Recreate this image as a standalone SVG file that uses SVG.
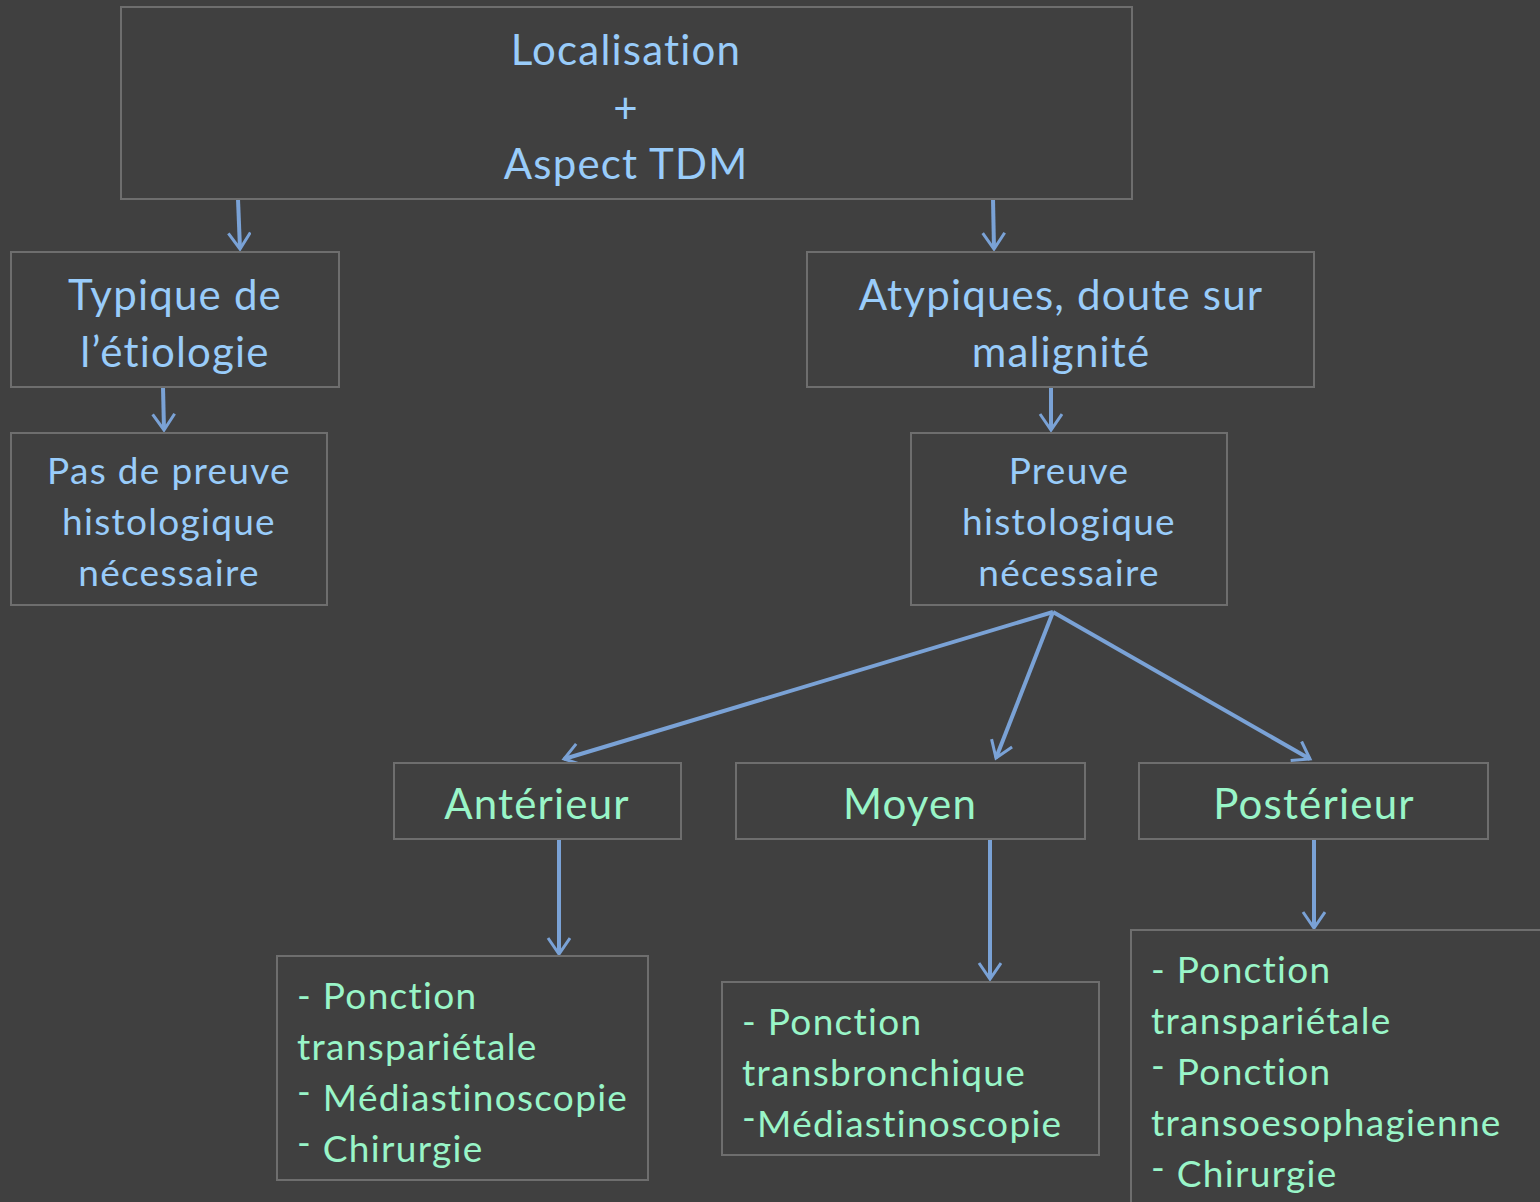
<svg xmlns="http://www.w3.org/2000/svg" width="1540" height="1202" viewBox="0 0 1540 1202">
<style>
.box{fill:#404040;stroke:#6e6e6e;stroke-width:2}
.t{font-family:Lato,"Open Sans","Liberation Sans",sans-serif;}
.blue{fill:#99ccfa}
.green{fill:#99f5c8}
.big{font-size:42px;letter-spacing:1.2px}
.mid{font-size:37px;letter-spacing:1.3px}
.c{text-anchor:middle}
.con{stroke:#7aa2d6;stroke-width:4;fill:none}
</style>
<defs>
<marker id="ah" markerUnits="userSpaceOnUse" markerWidth="34" markerHeight="34" refX="18" refY="12" orient="auto">
<path d="M2,1 L18,12 L2,23" fill="none" stroke="#7aa2d6" stroke-width="3"/>
</marker>
</defs>
<rect width="1540" height="1202" fill="#404040"/>
<g id="connectors">
<line class="con" x1="238" y1="199" x2="240" y2="249" marker-end="url(#ah)"/>
<line class="con" x1="993" y1="199" x2="994" y2="249" marker-end="url(#ah)"/>
<line class="con" x1="163" y1="387" x2="164" y2="430" marker-end="url(#ah)"/>
<line class="con" x1="1051" y1="387" x2="1051" y2="430" marker-end="url(#ah)"/>
<line class="con" x1="1053" y1="612" x2="564" y2="759" marker-end="url(#ah)"/>
<line class="con" x1="1053" y1="612" x2="996" y2="758" marker-end="url(#ah)"/>
<line class="con" x1="1053" y1="612" x2="1310" y2="759" marker-end="url(#ah)"/>
<line class="con" x1="559" y1="839" x2="559" y2="954" marker-end="url(#ah)"/>
<line class="con" x1="990" y1="839" x2="990" y2="979" marker-end="url(#ah)"/>
<line class="con" x1="1314" y1="839" x2="1314" y2="928" marker-end="url(#ah)"/>
</g>
<g id="n-top">
<rect class="box" x="121" y="7" width="1011" height="192"/>
<text class="t blue big c" x="626" y="65">Localisation</text>
<text class="t blue big c" x="626" y="123">+</text>
<text class="t blue big c" x="626" y="179">Aspect TDM</text>
</g>
<g id="n-typique">
<rect class="box" x="11" y="252" width="328" height="135"/>
<text class="t blue big c" x="175" y="310">Typique de</text>
<text class="t blue big c" x="175" y="367">l’étiologie</text>
</g>
<g id="n-pas">
<rect class="box" x="11" y="433" width="316" height="172"/>
<text class="t blue mid c" x="169" y="484">Pas de preuve</text>
<text class="t blue mid c" x="169" y="535">histologique</text>
<text class="t blue mid c" x="169" y="586">nécessaire</text>
</g>
<g id="n-atyp">
<rect class="box" x="807" y="252" width="507" height="135"/>
<text class="t blue big c" x="1061" y="310">Atypiques, doute sur</text>
<text class="t blue big c" x="1061" y="367">malignité</text>
</g>
<g id="n-preuve">
<rect class="box" x="911" y="433" width="316" height="172"/>
<text class="t blue mid c" x="1069" y="484">Preuve</text>
<text class="t blue mid c" x="1069" y="535">histologique</text>
<text class="t blue mid c" x="1069" y="586">nécessaire</text>
</g>
<g id="n-ant">
<rect class="box" x="394" y="763" width="287" height="76"/>
<text class="t green big c" x="537" y="819">Antérieur</text>
</g>
<g id="n-moy">
<rect class="box" x="736" y="763" width="349" height="76"/>
<text class="t green big c" x="910" y="819">Moyen</text>
</g>
<g id="n-post">
<rect class="box" x="1139" y="763" width="349" height="76"/>
<text class="t green big c" x="1314" y="819">Postérieur</text>
</g>
<g id="n-ant-list">
<rect class="box" x="277" y="956" width="371" height="224"/>
<text class="t green mid" x="297" y="1009">- Ponction</text>
<text class="t green mid" x="297" y="1060">transpariétale</text>
<text class="t green mid" x="297" y="1111"><tspan dy="-6">-</tspan><tspan dy="6"> Médiastinoscopie</tspan></text>
<text class="t green mid" x="297" y="1162"><tspan dy="-6">-</tspan><tspan dy="6"> Chirurgie</tspan></text>
</g>
<g id="n-moy-list">
<rect class="box" x="722" y="982" width="377" height="173"/>
<text class="t green mid" x="742" y="1035">- Ponction</text>
<text class="t green mid" x="742" y="1086">transbronchique</text>
<text class="t green mid" x="742" y="1137"><tspan dy="-6">-</tspan><tspan dy="6">Médiastinoscopie</tspan></text>
</g>
<g id="n-post-list">
<rect class="box" x="1131" y="930" width="420" height="290"/>
<text class="t green mid" x="1151" y="983">- Ponction</text>
<text class="t green mid" x="1151" y="1034">transpariétale</text>
<text class="t green mid" x="1151" y="1085"><tspan dy="-6">-</tspan><tspan dy="6"> Ponction</tspan></text>
<text class="t green mid" x="1151" y="1136">transoesophagienne</text>
<text class="t green mid" x="1151" y="1187"><tspan dy="-6">-</tspan><tspan dy="6"> Chirurgie</tspan></text>
</g>
</svg>
